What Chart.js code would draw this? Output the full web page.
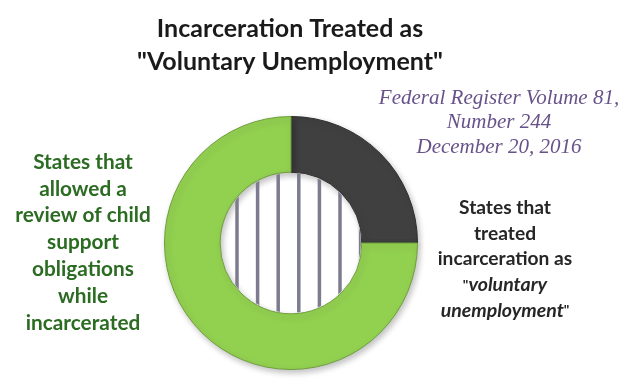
<!DOCTYPE html>
<html lang="en">
<head>
    <meta charset="UTF-8">
    <title>Incarceration Treated as Voluntary Unemployment</title>
    <script src="https://cdn.jsdelivr.net/npm/chart.js"></script>
    <style>
        html, body { margin: 0; padding: 0; background: #fff; }
        #wrap { width: 643px; height: 389px; position: relative; }
    </style>
</head>
<body>
    <div id="wrap">
        <canvas id="doughnutChart" width="643" height="389"></canvas>
    </div>

    <script>
        // Chart data
        const categories = [
            'States that treated incarceration as "voluntary unemployment"',
            'States that allowed a review of child support obligations while incarcerated'
        ];
        const shares = [25, 75];
        const sliceColors = ['#404040', '#92d050'];

        const titleLines = ['Incarceration Treated as', '"Voluntary Unemployment"'];
        const sourceLines = ['Federal Register Volume 81,', 'Number 244', 'December 20, 2016'];
        const leftLabel = ['States that', 'allowed a', 'review of child', 'support', 'obligations', 'while', 'incarcerated'];

        // Draws the jail bars inside the hole plus all the text around the ring
        const decorations = {
            id: 'decorations',
            beforeDatasetsDraw(chart) {
                const ctx = chart.ctx;
                ctx.save();
                ctx.shadowColor = 'rgba(0,0,0,0.25)';
                ctx.shadowBlur = 6;
                ctx.shadowOffsetX = 2;
                ctx.shadowOffsetY = 3;
            },
            afterDatasetsDraw(chart) {
                const ctx = chart.ctx;
                ctx.restore();
                const arc = chart.getDatasetMeta(0).data[0];
                const cx = arc.x, cy = arc.y, r = arc.innerRadius;

                // bars in the hole
                ctx.save();
                ctx.beginPath();
                ctx.arc(cx, cy, r - 1, 0, Math.PI * 2);
                ctx.clip();
                ctx.strokeStyle = '#7c7c8e';
                ctx.lineWidth = 3.5;
                for (let i = 0; i < 7; i++) {
                    const x = cx - 54 + i * 20.6;
                    ctx.beginPath();
                    ctx.moveTo(x, cy - r);
                    ctx.lineTo(x, cy + r);
                    ctx.stroke();
                }
                ctx.restore();

                ctx.save();
                ctx.textAlign = 'center';
                ctx.textBaseline = 'middle';

                // title
                ctx.fillStyle = '#1a1a1a';
                ctx.font = 'bold 25px Lato';
                ctx.fillText(titleLines[0], 290, 29);
                ctx.fillText(titleLines[1], 290, 62);

                // source note
                ctx.fillStyle = '#68528a';
                ctx.font = 'italic 21px "Liberation Serif"';
                sourceLines.forEach((t, i) => ctx.fillText(t, 499, 98 + i * 24.5));

                // left label
                ctx.fillStyle = '#2b6b22';
                ctx.font = 'bold 20.8px Lato';
                leftLabel.forEach((t, i) => ctx.fillText(t, 83, 162 + i * 26.8));

                // right label (mixed roman / italic)
                ctx.fillStyle = '#262626';
                ctx.font = 'bold 19.2px Lato';
                ctx.fillText('States that', 505, 208);
                ctx.fillText('treated', 505, 233.5);
                ctx.fillText('incarceration as', 505, 259);

                const drawMixed = (parts, y) => {
                    let total = 0;
                    parts.forEach(p => { ctx.font = p.font; p.w = ctx.measureText(p.text).width; total += p.w; });
                    let x = 505 - total / 2;
                    ctx.textAlign = 'left';
                    parts.forEach(p => { ctx.font = p.font; ctx.fillText(p.text, x, y); x += p.w; });
                    ctx.textAlign = 'center';
                };
                drawMixed([
                    { text: '"', font: 'bold 14px Lato' },
                    { text: 'voluntary', font: 'italic bold 19.5px Lato' }
                ], 285);
                drawMixed([
                    { text: 'unemployment', font: 'italic bold 19.5px Lato' },
                    { text: '"', font: 'bold 14px Lato' }
                ], 310.5);
                ctx.restore();
            }
        };

        new Chart(document.getElementById('doughnutChart').getContext('2d'), {
            type: 'doughnut',
            data: {
                labels: categories,
                datasets: [{
                    data: shares,
                    backgroundColor: sliceColors,
                    borderColor: ['#2e2e2e', '#6f9e3c'],
                    borderWidth: 1,
                    hoverOffset: 0,
                    offset: 0
                }]
            },
            options: {
                responsive: false,
                animation: false,
                cutout: '56%',
                layout: {
                    padding: { left: 164, right: 225, top: 116, bottom: 19 }
                },
                plugins: {
                    legend: { display: false },
                    title: { display: false },
                    tooltip: { enabled: false }
                }
            },
            plugins: [decorations]
        });
    </script>
</body>
</html>
